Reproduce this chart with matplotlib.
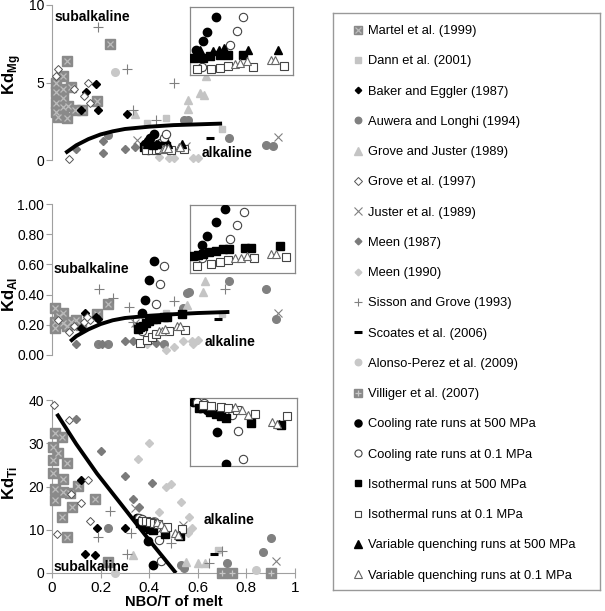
import matplotlib
matplotlib.use('Agg')
import matplotlib.pyplot as plt
from matplotlib.lines import Line2D

plt.rcParams['font.family'] = ['Liberation Sans', 'DejaVu Sans']
plt.rcParams['mathtext.fontset'] = 'custom'
plt.rcParams['mathtext.rm'] = 'Liberation Sans'
plt.rcParams['mathtext.bf'] = 'Liberation Sans:bold'

# ---- data, (NBO/T, Kd) pairs ----
# Kd Mg
martel_mg = [(0.016, 5.0), (0.016, 4.4), (0.016, 3.7), (0.016, 3.1), (0.025, 2.8), (0.045, 4.6), (0.045, 4.0),
             (0.045, 3.4), (0.06, 2.7), (0.06, 6.4), (0.045, 5.4), (0.08, 4.7), (0.185, 3.8), (0.24, 7.5),
             (0.095, 3.2), (0.125, 3.2), (0.065, 3.5)]
dann_mg = [(0.39, 2.4), (0.47, 2.7), (0.70, 2.0)]
baker_mg = [(0.12, 3.2), (0.14, 4.4), (0.18, 4.9), (0.19, 3.2), (0.31, 3.0)]
auwera_mg = [(0.23, 1.6), (0.545, 2.6), (0.56, 2.6), (0.73, 1.4), (0.88, 0.95), (0.91, 0.9)]
grove_juster_mg = [(0.34, 3.0), (0.56, 3.9), (0.56, 3.3), (0.61, 4.3), (0.625, 4.2), (0.635, 5.4)]
grove97_mg = [(0.07, 0.05), (0.015, 5.4), (0.025, 5.9), (0.15, 5.0), (0.13, 4.1), (0.155, 3.7), (0.09, 4.6)]
juster_mg = [(0.35, 1.3), (0.55, 0.9), (0.93, 1.5)]
meen87_mg = [(0.10, 0.7), (0.21, 0.45), (0.21, 1.2), (0.30, 0.7), (0.34, 0.85)]
meen90_mg = [(0.44, 0.2), (0.48, 0.1), (0.50, 0.1), (0.58, 0.15), (0.60, 0.15)]
sisson_mg = [(0.19, 8.6), (0.31, 5.9), (0.50, 5.0), (0.335, 3.2), (0.43, 2.6)]
scoates_mg = [(0.65, 1.4)]
alonso_mg = [(0.26, 5.7)]
villiger_mg = []
cool500_mg = [(0.383, 1.02), (0.396, 1.21), (0.403, 1.39), (0.42, 1.70)]
cool01_mg = [(0.394, 0.67), (0.446, 1.12), (0.459, 1.41), (0.47, 1.70)]
iso500_mg = [(0.38, 0.86), (0.396, 0.86), (0.409, 0.90), (0.427, 0.92), (0.442, 0.92), (0.47, 0.92)]
iso01_mg = [(0.385, 0.63), (0.411, 0.63), (0.427, 0.65), (0.442, 0.69), (0.488, 0.67), (0.545, 0.69)]
vq500_mg = [(0.391, 1.02), (0.414, 1.0), (0.426, 1.02), (0.435, 1.06), (0.479, 1.02), (0.534, 1.02)]
vq01_mg = [(0.455, 0.73), (0.464, 0.75), (0.477, 0.79), (0.521, 0.82), (0.528, 0.82)]
curve_mg_x = [0.055, 0.1, 0.15, 0.2, 0.25, 0.3, 0.4, 0.5, 0.6, 0.7]
curve_mg = [0.45, 0.95, 1.35, 1.65, 1.85, 2.0, 2.15, 2.25, 2.3, 2.35]

# Kd Al
martel_al = [(0.012, 0.31), (0.012, 0.22), (0.012, 0.18), (0.045, 0.28), (0.045, 0.21), (0.03, 0.26),
             (0.06, 0.19), (0.08, 0.22), (0.10, 0.23), (0.12, 0.20), (0.185, 0.27), (0.23, 0.34)]
dann_al = [(0.47, 0.28), (0.70, 0.27)]
baker_al = [(0.12, 0.18), (0.135, 0.28), (0.18, 0.25), (0.19, 0.24)]
auwera_al = [(0.19, 0.07), (0.23, 0.07), (0.46, 0.07), (0.54, 0.31), (0.555, 0.41), (0.565, 0.42),
             (0.73, 0.49), (0.88, 0.44), (0.92, 0.24)]
grove_juster_al = [(0.555, 0.33), (0.62, 0.42), (0.63, 0.49)]
grove97_al = [(0.025, 0.23), (0.07, 0.15), (0.09, 0.19), (0.13, 0.22), (0.155, 0.23), (0.145, 0.25)]
juster_al = [(0.34, 0.21), (0.93, 0.28)]
meen87_al = [(0.10, 0.07), (0.205, 0.07), (0.30, 0.09), (0.335, 0.09), (0.43, 0.08)]
meen90_al = [(0.39, 0.07), (0.47, 0.03), (0.50, 0.05), (0.54, 0.09), (0.575, 0.09), (0.58, 0.07), (0.60, 0.10)]
sisson_al = [(0.195, 0.44), (0.25, 0.38), (0.315, 0.32), (0.335, 0.22), (0.50, 0.36), (0.71, 0.44)]
scoates_al = [(0.685, 0.24)]
alonso_al = []
villiger_al = []
cool500_al = [(0.372, 0.279), (0.382, 0.364), (0.401, 0.497), (0.42, 0.62)]
cool01_al = [(0.372, 0.156), (0.43, 0.336), (0.445, 0.468), (0.46, 0.591)]
iso500_al = [(0.353, 0.175), (0.364, 0.184), (0.374, 0.194), (0.387, 0.213), (0.401, 0.222), (0.416, 0.241),
             (0.428, 0.241), (0.462, 0.25), (0.474, 0.25), (0.535, 0.269)]
iso01_al = [(0.361, 0.08), (0.391, 0.099), (0.41, 0.118), (0.426, 0.137), (0.481, 0.156), (0.548, 0.165)]
vq500_al = []
vq01_al = [(0.441, 0.156), (0.453, 0.156), (0.466, 0.175), (0.516, 0.194), (0.527, 0.194)]
curve_al_x = [0.075, 0.1, 0.15, 0.2, 0.25, 0.3, 0.4, 0.5, 0.6, 0.73]
curve_al = [0.09, 0.125, 0.17, 0.205, 0.23, 0.245, 0.26, 0.27, 0.278, 0.285]

# Kd Ti
martel_ti = [(0.012, 32.3), (0.041, 31.4), (0.004, 29.1), (0.025, 27.7), (0.004, 26.1), (0.062, 25.4),
             (0.004, 23.1), (0.045, 21.7), (0.012, 19.4), (0.045, 18.7), (0.074, 18.5), (0.107, 20.1),
             (0.012, 16.9), (0.177, 17.1), (0.082, 15.2), (0.041, 12.9), (0.062, 8.3)]
villiger_ti = [(0.23, 2.5), (0.70, 0.0), (0.74, 0.0), (0.90, 0.0)]
dann_ti = [(0.685, 5.3)]
baker_ti = [(0.12, 21.6), (0.185, 10.3), (0.30, 10.3), (0.135, 4.5), (0.175, 4.2)]
auwera_ti = [(0.23, 10.4), (0.42, 12.0), (0.53, 1.8), (0.545, 1.2), (0.72, 2.3), (0.87, 4.9), (0.90, 8.1)]
grove_juster_ti = [(0.335, 4.2), (0.55, 2.5), (0.60, 2.3), (0.63, 2.3)]
grove97_ti = [(0.01, 38.8), (0.07, 35.3), (0.15, 21.5), (0.12, 16.1), (0.155, 12.0), (0.02, 9.0), (0.08, 18.2)]
juster_ti = [(0.34, 15.0), (0.54, 11.0), (0.92, 2.8)]
meen87_ti = [(0.10, 35.7), (0.20, 28.3), (0.30, 22.5), (0.41, 20.8), (0.335, 17.0), (0.36, 15.3)]
meen90_ti = [(0.40, 30.0), (0.355, 26.4), (0.47, 19.8), (0.49, 20.5), (0.53, 16.4), (0.44, 14.0),
             (0.565, 13.0), (0.575, 10.4), (0.56, 9.2)]
sisson_ti = [(0.24, 14.3), (0.19, 8.3), (0.325, 9.2), (0.31, 4.4), (0.49, 7.0), (0.645, 2.4), (0.70, 5.1)]
scoates_ti = [(0.665, 4.4)]
alonso_ti = [(0.26, 0.1), (0.84, 0.7)]
cool500_ti = [(0.349, 12.7), (0.363, 11.6), (0.377, 11.3), (0.397, 7.4), (0.415, 1.8)]
cool01_ti = [(0.357, 12.7), (0.371, 12.5), (0.427, 10.4), (0.439, 7.6), (0.45, 2.7)]
iso500_ti = [(0.361, 11.6), (0.383, 10.9), (0.395, 10.6), (0.405, 10.2), (0.415, 9.9), (0.465, 9.0), (0.525, 8.6)]
iso01_ti = [(0.369, 12.1), (0.385, 12.0), (0.405, 11.8), (0.419, 11.6), (0.437, 11.3), (0.473, 10.6), (0.537, 10.2)]
vq500_ti = [(0.521, 8.8)]
vq01_ti = [(0.433, 11.8), (0.447, 11.3), (0.459, 10.4), (0.507, 9.2), (0.517, 8.8)]
curve_ti_x = [0.02, 0.1, 0.185, 0.29, 0.4, 0.51]
curve_ti = [36.8, 29.8, 23.0, 15.5, 7.6, 0.0]

labels = ['Martel et al. (1999)', 'Dann et al. (2001)', 'Baker and Eggler (1987)', 'Auwera and Longhi (1994)',
          'Grove and Juster (1989)', 'Grove et al. (1997)', 'Juster et al. (1989)', 'Meen (1987)', 'Meen (1990)',
          'Sisson and Grove (1993)', 'Scoates et al. (2006)', 'Alonso-Perez et al. (2009)', 'Villiger et al. (2007)',
          'Cooling rate runs at 500 MPa', 'Cooling rate runs at 0.1 MPa', 'Isothermal runs at 500 MPa',
          'Isothermal runs at 0.1 MPa', 'Variable quenching runs at 500 MPa', 'Variable quenching runs at 0.1 MPa']
keys = ['martel', 'dann', 'baker', 'auwera', 'grove_juster', 'grove97', 'juster', 'meen87', 'meen90', 'sisson',
        'scoates', 'alonso', 'villiger', 'cool500', 'cool01', 'iso500', 'iso01', 'vq500', 'vq01']
exp_keys = keys[13:]

# ---- marker styles ----
dg = '#8a8a8a'
lg = '#c4c4c4'
styles = {
    'martel': [dict(marker='s', ms=7, mfc=dg, mec=dg), dict(marker='x', ms=5, mec='#bcbcbc', mew=0.9)],
    'dann': [dict(marker='s', ms=4.5, mfc=lg, mec=lg)],
    'baker': [dict(marker='D', ms=3.8, mfc='k', mec='k')],
    'auwera': [dict(marker='o', ms=5.5, mfc='#808080', mec='#808080')],
    'grove_juster': [dict(marker='^', ms=6, mfc=lg, mec=lg)],
    'grove97': [dict(marker='D', ms=4.3, mfc='white', mec='#555555', mew=0.7)],
    'juster': [dict(marker='x', ms=6, mec='#808080', mew=0.8)],
    'meen87': [dict(marker='D', ms=4, mfc='#7a7a7a', mec='#7a7a7a')],
    'meen90': [dict(marker='D', ms=4, mfc='#c8c8c8', mec='#c8c8c8')],
    'sisson': [dict(marker='+', ms=7, mec='#808080', mew=0.8)],
    'scoates': [dict(marker='_', ms=6, mec='k', mew=2.2)],
    'alonso': [dict(marker='o', ms=5.5, mfc='#c8c8c8', mec='#c8c8c8')],
    'villiger': [dict(marker='s', ms=7, mfc=dg, mec=dg), dict(marker='+', ms=5, mec='#c8c8c8', mew=0.9)],
    'cool500': [dict(marker='o', ms=6, mfc='k', mec='k')],
    'cool01': [dict(marker='o', ms=6, mfc='white', mec='#444444', mew=0.8)],
    'iso500': [dict(marker='s', ms=5.5, mfc='k', mec='k')],
    'iso01': [dict(marker='s', ms=5.5, mfc='white', mec='#444444', mew=0.8)],
    'vq500': [dict(marker='^', ms=6, mfc='k', mec='k')],
    'vq01': [dict(marker='^', ms=6, mfc='white', mec='#666666', mew=0.8)],
}

panels = [
    dict(data={k: globals()[k + '_mg'] for k in keys}, cx=curve_mg_x, cy=curve_mg, ylim=(0, 10),
         yticks=[0, 5, 10], fmt='{:g}', lab=r'$\mathbf{Kd}_{\mathbf{Mg}}$', labpos=(-0.118, 0.55),
         rect=[52 / 605, 1 - 160 / 611, 243 / 605, 155 / 611],
         inset=[190 / 605, 1 - 75 / 611, 103 / 605, 68 / 611], ixlim=(0.372, 0.561), iylim=(0.51, 1.9),
         sub=(0.012, 9.2), alk=(0.617, 0.45)),
    dict(data={k: globals()[k + '_al'] for k in keys}, cx=curve_al_x, cy=curve_al, ylim=(0, 1.0),
         yticks=[0, 0.2, 0.4, 0.6, 0.8, 1.0], fmt='{:.2f}', lab=r'$\mathbf{Kd}_{\mathbf{Al}}$', labpos=(-0.136, 0.40),
         rect=[52 / 605, 1 - 355 / 611, 243 / 605, 151 / 611],
         inset=[190 / 605, 1 - 273 / 611, 105 / 605, 68 / 611], ixlim=(0.347, 0.566), iylim=(0.014, 0.66),
         sub=(0.005, 0.57), alk=(0.63, 0.085)),
    dict(data={k: globals().get(k + '_ti', []) for k in keys}, cx=curve_ti_x, cy=curve_ti, ylim=(0, 40),
         yticks=[0, 10, 20, 30, 40], fmt='{:g}', lab=r'$\mathbf{Kd}_{\mathbf{Ti}}$', labpos=(-0.136, 0.52),
         rect=[52 / 605, 1 - 573 / 611, 243 / 605, 173 / 611],
         inset=[190 / 605, 1 - 466 / 611, 107 / 605, 68 / 611], ixlim=(0.343, 0.557), iylim=(1.4, 13.4),
         sub=(0.005, 1.4), alk=(0.625, 12.2)),
]


def draw(ax, pts, key, clip):
    if not pts:
        return
    xs, ys = zip(*pts)
    z = 4 if key in exp_keys else 3
    for st in styles[key]:
        ax.plot(xs, ys, ls='none', clip_on=clip, zorder=z, **st)


fig = plt.figure(figsize=(6.05, 6.11), dpi=100)
axc = '#a0a0a0'

for i, p in enumerate(panels):
    ax = fig.add_axes(p['rect'])
    ax.set_xlim(0, 1)
    ax.set_ylim(*p['ylim'])
    for s in ['top', 'right']:
        ax.spines[s].set_visible(False)
    ax.spines['left'].set_color(axc)
    ax.set_yticks(p['yticks'])
    ax.set_yticklabels([p['fmt'].format(v) for v in p['yticks']])
    ax.tick_params(axis='y', color=axc, length=4, labelsize=10, pad=1.5)
    if i < 2:
        ax.spines['bottom'].set_visible(False)
        ax.set_xticks([])
    else:
        ax.spines['bottom'].set_color(axc)
        ax.set_xticks([0, 0.2, 0.4, 0.6, 0.8, 1.0])
        ax.set_xticklabels(['0', '0.2', '0.4', '0.6', '0.8', '1'])
        ax.tick_params(axis='x', color=axc, direction='inout', length=7, labelsize=11, pad=2)
        ax.set_xlabel('NBO/T of melt', fontsize=10.5, fontweight='bold', labelpad=0)
    ax.set_ylabel(p['lab'], fontsize=12)
    ax.yaxis.set_label_coords(*p['labpos'])

    for k in keys:
        draw(ax, p['data'][k], k, False)
    ax.plot(p['cx'], p['cy'], color='k', lw=2.8, zorder=5, solid_capstyle='butt')

    ax.text(p['sub'][0], p['sub'][1], 'subalkaline', fontsize=10, fontweight='bold', va='center', zorder=6)
    ax.text(p['alk'][0], p['alk'][1], 'alkaline', fontsize=10, fontweight='bold', va='center', zorder=6)

    ins = fig.add_axes(p['inset'])
    ins.set_xlim(*p['ixlim'])
    ins.set_ylim(*p['iylim'])
    ins.set_xticks([])
    ins.set_yticks([])
    for s in ins.spines.values():
        s.set_color('#888888')
        s.set_linewidth(0.9)
    for k in exp_keys:
        draw(ins, p['data'][k], k, True)

# legend box
lax = fig.add_axes([333 / 605, 1 - 590 / 611, 267 / 605, 577 / 611])
lax.set_xticks([])
lax.set_yticks([])
for s in lax.spines.values():
    s.set_color('#999999')
    s.set_linewidth(1)

handles = []
for k in keys:
    parts = tuple(Line2D([], [], ls='none', **st) for st in styles[k])
    handles.append(parts if len(parts) > 1 else parts[0])
fig.legend(handles, labels, loc='upper left', bbox_to_anchor=(352 / 605, 1 - 25 / 611),
           bbox_transform=fig.transFigure, frameon=False, fontsize=9.3, labelspacing=1.41,
           handlelength=0.95, handletextpad=0.3, borderpad=0, borderaxespad=0, markerscale=0.85)

fig.savefig('out.png', dpi=100)
